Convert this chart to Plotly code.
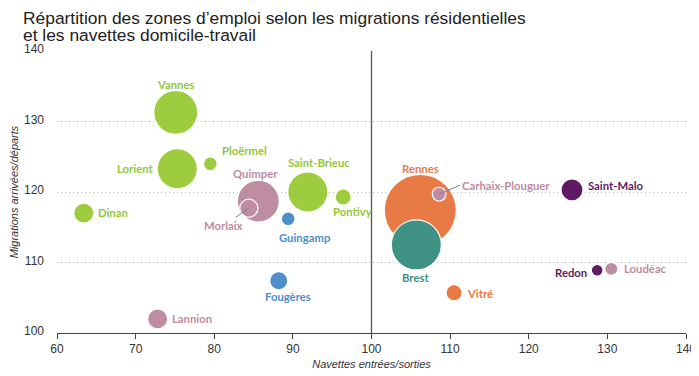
import plotly.graph_objects as go

zones = ["Vannes", "Lorient", "Ploërmel", "Dinan", "Quimper", "Morlaix", "Saint-Brieuc",
         "Pontivy", "Guingamp", "Fougères", "Lannion", "Brest", "Rennes", "Carhaix-Plouguer",
         "Vitré", "Saint-Malo", "Redon", "Loudéac"]
navettes = [75.1, 75.3, 79.5, 63.4, 85.6, 84.4, 91.9, 96.4, 89.4, 88.2, 72.8, 105.7, 106.2,
            108.6, 110.5, 125.5, 128.7, 130.5]
migrations = [131.3, 123.3, 124.0, 117.0, 118.7, 117.7, 120.0, 119.3, 116.2, 107.4, 102.0,
              112.5, 117.4, 119.7, 105.7, 120.3, 108.9, 109.1]
emplois = [112, 93, 11, 23, 102, 19, 93, 15, 11, 19, 23, 145, 300, 11, 15, 28, 8, 10]
groupe = ["vert", "vert", "vert", "vert", "rose", "rose_contour", "vert", "vert", "bleu", "bleu",
          "rose", "sarcelle", "orange", "rose", "orange", "violet", "violet", "rose"]
titre = ["Répartition des zones d’emploi selon les migrations résidentielles",
         "et les navettes domicile-travail"]

couleurs = {"vert": "#9DCC3F", "rose": "#BF8DA2", "rose_contour": "rgba(0,0,0,0)", "bleu": "#4E8FCB",
            "orange": "#E87B45", "sarcelle": "#3F9183", "violet": "#5E1B63"}
couleurs_texte = {"vert": "#92C83A", "rose": "#BE8BA0", "rose_contour": "#BE8BA0", "bleu": "#4E8FCB",
                  "orange": "#E87B45", "sarcelle": "#3F9183", "violet": "#5E1B63"}

# label placement (style): xshift, yshift, anchor
placement = {
    "Vannes": (0, 28, "center"), "Lorient": (-22, 0, "right"), "Ploërmel": (10, 13, "left"),
    "Dinan": (12, 1, "left"), "Quimper": (-3, 28, "center"), "Saint-Brieuc": (11, 30, "center"),
    "Pontivy": (9, -15, "center"), "Guingamp": (17, -19, "center"), "Fougères": (9, -16, "center"),
    "Lannion": (12, 0, "left"), "Brest": (-1, -33, "center"), "Rennes": (0, 42, "center"),
    "Vitré": (11, -1, "left"), "Saint-Malo": (14, 4, "left"), "Redon": (-8, -2, "right"),
    "Loudéac": (11, 0, "left"),
}
leaders = {"Morlaix": (-25, 17, "center"), "Carhaix-Plouguer": (21, -9, "left")}

sizeref = 2 * 300 / 72 ** 2
label_font = "Lato, Roboto, Liberation Sans, Arial"
label_size = 11.3

fig = go.Figure()
order = sorted(range(len(zones)), key=lambda i: -emplois[i])
fig.add_trace(go.Scatter(
    x=[navettes[i] for i in order], y=[migrations[i] for i in order], mode="markers",
    marker=dict(size=[emplois[i] for i in order], sizemode="area", sizeref=sizeref,
                color=[couleurs[groupe[i]] for i in order], opacity=1,
                line=dict(color="white", width=1.2)),
    hoverinfo="text", text=[zones[i] for i in order], showlegend=False,
))

fig.add_shape(type="line", x0=100, x1=100, y0=100, y1=140, xref="x", yref="y",
              line=dict(color="#555555", width=1.3))

annotations = []
for i, z in enumerate(zones):
    col = couleurs_texte[groupe[i]]
    if z in placement:
        xs, ys, anc = placement[z]
        annotations.append(dict(x=navettes[i], y=migrations[i], text=f"<b>{z}</b>", showarrow=False,
                                xshift=xs, yshift=ys, xanchor=anc, yanchor="middle",
                                font=dict(family=label_font, size=label_size, color=col)))
    else:
        ax, ay, anc = leaders[z]
        annotations.append(dict(x=navettes[i], y=migrations[i], text=f"<b>{z}</b>", showarrow=True,
                                arrowhead=0, arrowwidth=1, arrowcolor="#7B7BA6", ax=ax, ay=ay,
                                xanchor=anc, yanchor="middle", standoff=0,
                                font=dict(family=label_font, size=label_size, color=col)))

for ligne, ys in zip(titre, [33.5, 16]):
    annotations.append(dict(
        text=ligne, xref="paper", yref="paper", x=-0.058, y=1, xanchor="left", yanchor="middle",
        yshift=ys, align="left", showarrow=False,
        font=dict(family="Liberation Sans, Arial", size=17.4, color="#222222")))
fig.update_layout(annotations=annotations)

# the page body adds an 8px offset, so the figure is slightly smaller than the window
fig.update_layout(
    width=691, height=368,
    margin=dict(l=49, r=13, t=43, b=43),
    paper_bgcolor="white", plot_bgcolor="white",
    font=dict(family="Liberation Sans, Arial", color="#333333"),
    xaxis=dict(range=[60, 140], dtick=10, tick0=60, showgrid=False, zeroline=False, automargin=False,
               showline=True, linecolor="#444444", linewidth=1, ticks="outside", ticklen=5,
               tickcolor="#444444", tickfont=dict(size=12, color="#333333"),
               title=dict(text="<i>Navettes entrées/sorties</i>", font=dict(size=11, color="#333333"), standoff=4)),
    yaxis=dict(range=[100, 140], dtick=10, tick0=100, showgrid=True, gridcolor="#BBBBBB", automargin=False,
               griddash="1px,3px", gridwidth=1, zeroline=False, showline=False, ticks="",
               tickfont=dict(size=12, color="#333333"), ticklabelstandoff=12, ticklabelshift=-2,
               title=dict(text="<i>Migrations arrivées/départs</i>", font=dict(size=11, color="#333333"), standoff=8)),
)

fig.write_html("out.html")
